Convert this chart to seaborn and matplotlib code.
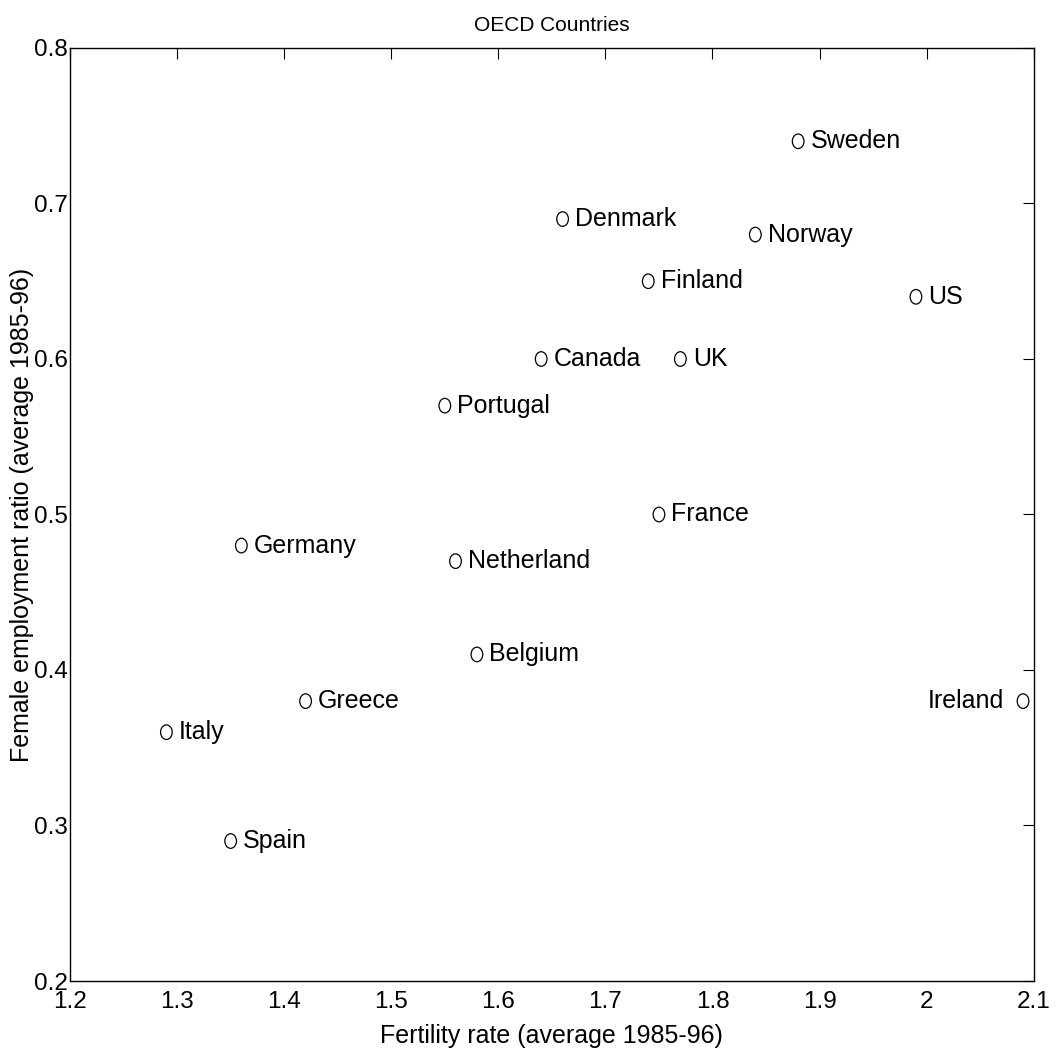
import matplotlib
matplotlib.use("Agg")
import matplotlib.pyplot as plt
import seaborn as sns
import pandas as pd
from matplotlib.path import Path
from matplotlib.transforms import Affine2D

countries = ["Sweden", "Denmark", "Norway", "Finland", "US", "Canada", "UK",
             "Portugal", "France", "Germany", "Netherland", "Belgium", "Greece",
             "Ireland", "Italy", "Spain"]
fertility = [1.88, 1.66, 1.84, 1.74, 1.99, 1.64, 1.77,
             1.55, 1.75, 1.36, 1.56, 1.58, 1.42,
             2.09, 1.29, 1.35]
employment = [0.74, 0.69, 0.68, 0.65, 0.64, 0.60, 0.60,
              0.57, 0.50, 0.48, 0.47, 0.41, 0.38,
              0.38, 0.36, 0.29]
left_labels = ["Ireland"]

xticks = [1.2, 1.3, 1.4, 1.5, 1.6, 1.7, 1.8, 1.9, 2.0, 2.1]
xticklabels = ["1.2", "1.3", "1.4", "1.5", "1.6", "1.7", "1.8", "1.9", "2", "2.1"]
yticks = [0.2, 0.3, 0.4, 0.5, 0.6, 0.7, 0.8]
yticklabels = ["0.2", "0.3", "0.4", "0.5", "0.6", "0.7", "0.8"]

df = pd.DataFrame({"country": countries, "fertility": fertility, "employment": employment})

sns.set_style("white")
plt.rcParams["font.family"] = ["Liberation Sans", "DejaVu Sans"]
plt.rcParams["text.color"] = "black"
plt.rcParams["axes.labelcolor"] = "black"
plt.rcParams["xtick.color"] = "black"
plt.rcParams["ytick.color"] = "black"

fig = plt.figure(figsize=(10.61, 10.57), dpi=100)
ax = fig.add_axes([0.066, 0.0719, 0.9083, 0.8827])

# slightly tall open ellipse marker
oval = Path.unit_circle().transformed(Affine2D().scale(0.8, 1.0))

sns.scatterplot(data=df, x="fertility", y="employment", ax=ax, marker=oval,
                s=110, facecolor="none", edgecolor="black", linewidth=0.9, legend=False)

for c, xv, yv in zip(countries, fertility, employment):
    if c in left_labels:
        ax.annotate(c, (xv, yv), xytext=(-14, 0), textcoords="offset points",
                    ha="right", va="center", fontsize=18, color="black")
    else:
        ax.annotate(c, (xv, yv), xytext=(9, 0), textcoords="offset points",
                    ha="left", va="center", fontsize=18, color="black")

ax.set_xlim(1.2, 2.1)
ax.set_ylim(0.2, 0.8)
ax.set_xticks(xticks)
ax.set_xticklabels(xticklabels)
ax.set_yticks(yticks)
ax.set_yticklabels(yticklabels)
ax.tick_params(direction="in", length=8, width=0.8, color="black",
               top=True, right=True, labelsize=17.5, labelcolor="black")
ax.tick_params(axis="x", pad=7)
ax.tick_params(axis="y", pad=1.5)
for sp in ax.spines.values():
    sp.set_visible(True)
    sp.set_color("black")
    sp.set_linewidth(1.0)

ax.set_xlabel("Fertility rate (average 1985-96)", fontsize=18, labelpad=8)
ax.set_ylabel("Female employment ratio (average 1985-96)", fontsize=18, labelpad=0)
ax.set_title("OECD Countries", fontsize=15, pad=12, color="black")

fig.savefig("out.png", dpi=100, facecolor="white")
